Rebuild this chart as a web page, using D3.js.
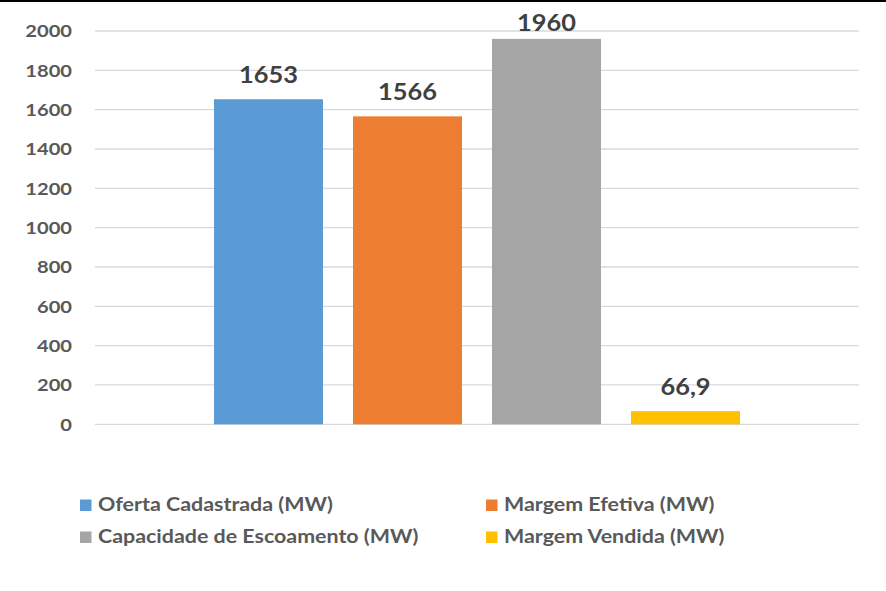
<!DOCTYPE html>
<html><head><meta charset="utf-8">
<script src="https://cdn.jsdelivr.net/npm/d3@7"></script>
<style>
html,body{margin:0;padding:0;background:#fff;}
svg{display:block;font-family:Lato,"Open Sans",sans-serif;}
</style></head>
<body>
<svg id="chart" width="886" height="591"></svg>
<script>
const series = ["Oferta Cadastrada (MW)", "Margem Efetiva (MW)", "Capacidade de Escoamento (MW)", "Margem Vendida (MW)"];
const values = [1653, 1566, 1960, 66.9];
const valueLabels = ["1653", "1566", "1960", "66,9"];
const colors = ["#5B9BD5", "#ED7D31", "#A5A5A5", "#FFC000"];
const yTicks = [0, 200, 400, 600, 800, 1000, 1200, 1400, 1600, 1800, 2000];

const svg = d3.select("#chart");
const W = 886, H = 591;
const plot = {left: 95, right: 859, top: 31, bottom: 424.3};

svg.append("line").attr("x1",0).attr("x2",W).attr("y1",1).attr("y2",1)
  .attr("stroke","#000").attr("stroke-width",2);

const y = d3.scaleLinear().domain([0,2000]).range([plot.bottom, plot.top]);
const x = d3.scaleBand().domain(series).range([plot.left, plot.right])
  .paddingInner(30/139).paddingOuter(0.856);

// gridlines
svg.append("g").selectAll("line").data(yTicks).join("line")
  .attr("x1", plot.left).attr("x2", plot.right)
  .attr("y1", d=>y(d)).attr("y2", d=>y(d))
  .attr("stroke","#D9D9D9").attr("stroke-width",1.3);

// y axis labels (horizontally widened to mimic Calibri metrics)
const sxTick = 1.15;
svg.append("g").selectAll("text").data(yTicks).join("text")
  .attr("transform", d=>`translate(72,${y(d)}) scale(${sxTick},1)`)
  .attr("text-anchor","end").attr("dy","0.36em")
  .attr("font-weight","bold").attr("font-size","17.5px").attr("fill","#595959")
  .text(d3.format("d"));

// bars
svg.append("g").selectAll("rect").data(series).join("rect")
  .attr("x", d=>x(d)).attr("width", x.bandwidth())
  .attr("y", (d,i)=>y(values[i])).attr("height",(d,i)=>y(0)-y(values[i]))
  .attr("fill",(d,i)=>colors[i]);

// data labels
svg.append("g").selectAll("text").data(series).join("text")
  .attr("transform",(d,i)=>`translate(${x(d)+x.bandwidth()/2},${Math.max(y(values[i]) - 16.5, 31)}) scale(1.08,1)`)
  .attr("text-anchor","middle").attr("font-weight","bold")
  .attr("font-size","23.5px").attr("fill","#404040")
  .text((d,i)=>valueLabels[i]);

// legend
const legPos = [[80,511],[486,511],[80,543],[486,543]];
const leg = svg.append("g").selectAll("g").data(series).join("g")
  .attr("transform",(d,i)=>`translate(${legPos[i][0]},${legPos[i][1]})`);
leg.append("rect").attr("x",0).attr("y",-11.5).attr("width",11.5).attr("height",11.5)
  .attr("fill",(d,i)=>colors[i]);
leg.append("text").attr("transform","translate(18,0) scale(1.19,1)").attr("font-weight","bold")
  .attr("font-size","18px").attr("fill","#595959").text(d=>d);
</script>
</body></html>
